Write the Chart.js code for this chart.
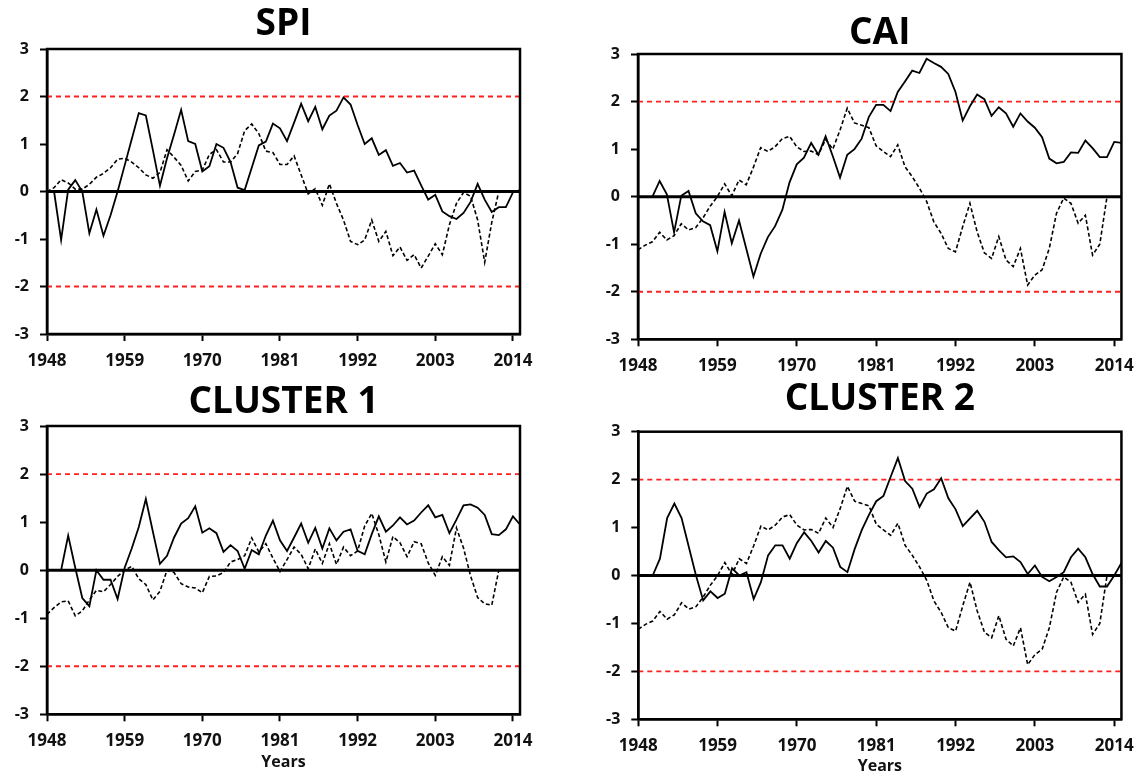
<!DOCTYPE html>
<html>
<head>
<meta charset="utf-8">
<script src="https://cdn.jsdelivr.net/npm/chart.js@4.4.1/dist/chart.umd.min.js"></script>
<style>
  html, body { margin: 0; padding: 0; background: #fff; }
  body { width: 1144px; height: 776px; position: relative; overflow: hidden; }
  .panel { position: absolute; }
</style>
</head>
<body>
<div class="panel" style="left:0;top:0;width:555px;height:378px"><canvas id="spi"></canvas></div>
<div class="panel" style="left:590px;top:0;width:554px;height:378px"><canvas id="cai"></canvas></div>
<div class="panel" style="left:0;top:378px;width:555px;height:398px"><canvas id="cluster1"></canvas></div>
<div class="panel" style="left:590px;top:378px;width:554px;height:398px"><canvas id="cluster2"></canvas></div>
<script>
// years on the x axis (one value per year)
const years = [
  1948, 1949, 1950, 1951, 1952, 1953, 1954, 1955, 1956, 1957, 1958,
  1959, 1960, 1961, 1962, 1963, 1964, 1965, 1966, 1967, 1968, 1969,
  1970, 1971, 1972, 1973, 1974, 1975, 1976, 1977, 1978, 1979, 1980,
  1981, 1982, 1983, 1984, 1985, 1986, 1987, 1988, 1989, 1990, 1991,
  1992, 1993, 1994, 1995, 1996, 1997, 1998, 1999, 2000, 2001, 2002,
  2003, 2004, 2005, 2006, 2007, 2008, 2009, 2010, 2011, 2012, 2013,
  2014, 2015
];
const xTicks = [1948, 1959, 1970, 1981, 1992, 2003, 2014];
const yTicks = [-3, -2, -1, 0, 1, 2, 3];
const thresholds = [-2, 2];

// solid lines, 1948 -> 2015
const spiSolid = [
  null, 0, -1.02, 0.04, 0.24, 0.0, -0.88, -0.38, -0.93, -0.5, 0.0,
  0.55, 1.1, 1.65, 1.6, 0.87, 0.12, 0.7, 1.2, 1.72, 1.06, 1.0,
  0.42, 0.53, 1.0, 0.92, 0.62, 0.08, 0.03, 0.5, 0.97, 1.05, 1.43,
  1.33, 1.06, 1.45, 1.85, 1.48, 1.78, 1.31, 1.6, 1.7, 1.98, 1.83,
  1.4, 1.0, 1.12, 0.77, 0.87, 0.54, 0.6, 0.4, 0.44, 0.13, -0.17,
  -0.07, -0.42, -0.52, -0.58, -0.45, -0.22, 0.16, -0.17, -0.43, -0.33, -0.33,
  -0.02, 0.03
];
const caiSolid = [
  null, null, 0, 0.33, 0.05, -0.75, 0.02, 0.12, -0.35, -0.52, -0.6,
  -1.15, -0.32, -0.98, -0.5, -1.09, -1.68, -1.2, -0.85, -0.62, -0.28, 0.3,
  0.68, 0.82, 1.13, 0.88, 1.27, 0.85, 0.4, 0.88, 1.0, 1.22, 1.68,
  1.93, 1.93, 1.8, 2.2, 2.42, 2.65, 2.6, 2.9, 2.81, 2.73, 2.58,
  2.2, 1.6, 1.9, 2.15, 2.05, 1.7, 1.88, 1.75, 1.47, 1.75, 1.58,
  1.45, 1.25, 0.8, 0.7, 0.73, 0.93, 0.92, 1.18, 1.02, 0.83, 0.83,
  1.15, 1.13
];
const cluster1Solid = [
  null, null, 0, 0.72, 0.05, -0.58, -0.75, 0.0, -0.2, -0.2, -0.6,
  0.05, 0.45, 0.9, 1.48, 0.8, 0.13, 0.3, 0.68, 0.97, 1.08, 1.33,
  0.78, 0.87, 0.77, 0.38, 0.52, 0.4, 0.03, 0.42, 0.33, 0.72, 1.03,
  0.62, 0.4, 0.68, 0.97, 0.57, 0.88, 0.45, 0.87, 0.62, 0.8, 0.85,
  0.4, 0.33, 0.75, 1.12, 0.8, 0.93, 1.1, 0.95, 1.03, 1.2, 1.35,
  1.1, 1.15, 0.77, 1.05, 1.35, 1.37, 1.3, 1.15, 0.75, 0.73, 0.85,
  1.12, 0.95
];
const cluster2Solid = [
  null, null, 0, 0.35, 1.2, 1.5, 1.2, 0.6, 0.0, -0.52, -0.33,
  -0.47, -0.38, 0.15, 0.0, 0.07, -0.49, -0.14, 0.42, 0.63, 0.63, 0.35,
  0.68, 0.9, 0.72, 0.48, 0.72, 0.58, 0.18, 0.07, 0.55, 0.95, 1.27,
  1.55, 1.66, 2.06, 2.45, 1.97, 1.81, 1.43, 1.71, 1.8, 2.03, 1.61,
  1.38, 1.03, 1.19, 1.35, 1.12, 0.7, 0.53, 0.38, 0.4, 0.28, 0.03,
  0.21, -0.03, -0.12, -0.03, 0.07, 0.38, 0.56, 0.38, 0.03, -0.23, -0.23,
  0.0, 0.26
];

// dashed lines, from 1948 until they stop
const spiDashed = [
  0, 0.08, 0.25, 0.18, 0.05, 0.05, 0.15, 0.3, 0.38, 0.5, 0.68,
  0.7, 0.62, 0.5, 0.35, 0.28, 0.4, 0.88, 0.72, 0.55, 0.22, 0.42,
  0.45, 0.78, 0.88, 0.62, 0.62, 0.8, 1.28, 1.42, 1.22, 0.85, 0.82,
  0.57, 0.57, 0.75, 0.35, -0.05, 0.06, -0.29, 0.16, -0.25, -0.6, -1.05,
  -1.12, -1.02, -0.6, -1.05, -0.84, -1.35, -1.17, -1.45, -1.33, -1.61, -1.36,
  -1.1, -1.33, -0.7, -0.25, -0.02, -0.1, -0.6, -1.49, -0.65, 0.0
];
const caiDashed = [
  -1.12, -1.02, -0.95, -0.75, -0.91, -0.82, -0.57, -0.7, -0.65, -0.45, -0.2,
  0.0, 0.27, 0.02, 0.35, 0.25, 0.62, 1.03, 0.95, 1.05, 1.22, 1.27,
  1.05, 0.95, 0.96, 0.88, 1.2, 1.0, 1.4, 1.86, 1.55, 1.5, 1.45,
  1.07, 0.95, 0.84, 1.09, 0.63, 0.42, 0.18, -0.1, -0.53, -0.77, -1.09,
  -1.16, -0.63, -0.14, -0.74, -1.18, -1.3, -0.84, -1.33, -1.47, -1.09, -1.86,
  -1.65, -1.54, -1.09, -0.35, -0.03, -0.14, -0.56, -0.39, -1.23, -1.0, 0.0
];
const cluster1Dashed = [
  -0.92, -0.78, -0.66, -0.64, -0.95, -0.85, -0.62, -0.42, -0.45, -0.3, -0.13,
  0.0, 0.08, -0.18, -0.3, -0.62, -0.44, 0.0, -0.05, -0.28, -0.35, -0.37,
  -0.47, -0.13, -0.12, -0.05, 0.17, 0.22, 0.3, 0.67, 0.38, 0.55, 0.25,
  -0.03, 0.22, 0.48, 0.33, 0.03, 0.44, 0.14, 0.55, 0.12, 0.48, 0.3,
  0.4, 0.92, 1.18, 0.74, 0.17, 0.7, 0.57, 0.28, 0.59, 0.55, 0.15,
  -0.11, 0.28, 0.1, 0.88, 0.46, -0.12, -0.57, -0.7, -0.73, 0.0
];
const cluster2Dashed = caiDashed; // same curve as in the CAI panel

const FONT = "'Open Sans', 'DejaVu Sans', sans-serif";

function pts(values) {
  return values.map((v, i) => ({ x: years[i], y: v }));
}

function flatLine(y) {
  return [{ x: years[0], y: y }, { x: years[years.length - 1], y: y }];
}

// draws the box round the plot area
const framePlugin = {
  id: "frame",
  afterDraw(chart) {
    const { ctx, chartArea: a } = chart;
    ctx.save();
    ctx.strokeStyle = "#000";
    ctx.lineWidth = 2.5;
    ctx.strokeRect(a.left, a.top, a.right - a.left, a.bottom - a.top);
    ctx.restore();
  },
};

function makePanel(id, title, solid, dashed, box) {
  const datasets = [];
  thresholds.forEach(function (t) {
    datasets.push({
      data: flatLine(t),
      borderColor: "#ff2020",
      borderWidth: 1.8,
      borderDash: [5, 4],
      order: 3,
    });
  });
  datasets.push({ data: flatLine(0), borderColor: "#000", borderWidth: 3, order: 0 });
  datasets.push({ data: pts(solid), borderColor: "#000", borderWidth: 1.8, order: 1 });
  datasets.push({
    data: pts(dashed),
    borderColor: "#000",
    borderWidth: 1.6,
    borderDash: [4, 2.5],
    order: 1,
  });

  new Chart(document.getElementById(id), {
    type: "line",
    data: { datasets: datasets },
    plugins: [framePlugin],
    options: {
      responsive: true,
      maintainAspectRatio: false,
      animation: false,
      events: [],
      elements: { point: { radius: 0 }, line: { tension: 0, fill: false } },
      layout: { padding: { left: 0, top: 0, right: box.padR, bottom: 0 } },
      plugins: {
        legend: { display: false },
        tooltip: { enabled: false },
        title: {
          display: true,
          text: title,
          color: "#000",
          fullSize: false,
          font: { family: FONT, size: 37, weight: "bold", lineHeight: 1 },
          padding: { top: box.tTop, bottom: box.tBottom },
        },
      },
      scales: {
        x: {
          type: "linear",
          min: years[0],
          max: years[years.length - 1],
          afterBuildTicks: function (s) {
            s.ticks = xTicks.map(function (v) { return { value: v }; });
          },
          afterFit: function (s) { s.height = box.xh; },
          ticks: {
            autoSkip: false,
            maxRotation: 0,
            padding: 10,
            color: "#111",
            font: { family: FONT, size: 17, weight: "bold" },
            callback: function (v) { return String(v); },
          },
          grid: {
            drawOnChartArea: false,
            drawTicks: true,
            tickLength: 7,
            tickColor: "#000",
            tickWidth: 2,
          },
          border: { display: true, color: "#000", width: 2.5 },
          title: {
            display: box.yearsLabel,
            text: "Years",
            color: "#111",
            font: { family: FONT, size: 16, weight: "bold" },
            padding: { top: 0, bottom: box.yearsPad },
          },
        },
        y: {
          min: yTicks[0],
          max: yTicks[yTicks.length - 1],
          afterBuildTicks: function (s) {
            s.ticks = yTicks.map(function (v) { return { value: v }; });
          },
          afterFit: function (s) { s.width = box.yw; },
          ticks: {
            padding: 11,
            color: "#111",
            font: { family: FONT, size: 16, weight: "bold" },
          },
          grid: {
            drawOnChartArea: false,
            drawTicks: true,
            tickLength: 7,
            tickColor: "#000",
            tickWidth: 2,
          },
          border: { display: true, color: "#000", width: 2.5 },
        },
      },
    },
  });
}

makePanel("spi", "SPI", spiSolid, spiDashed,
  { yw: 47, xh: 44, padR: 35, tTop: 5.5, tBottom: 6.5, yearsLabel: false, yearsPad: 0 });
makePanel("cai", "CAI", caiSolid, caiDashed,
  { yw: 48, xh: 38.7, padR: 18, tTop: 15, tBottom: 2, yearsLabel: false, yearsPad: 0 });
makePanel("cluster1", "CLUSTER 1", cluster1Solid, cluster1Dashed,
  { yw: 47, xh: 61.7, padR: 35, tTop: 6, tBottom: 5, yearsLabel: true, yearsPad: 4 });
makePanel("cluster2", "CLUSTER 2", cluster2Solid, cluster2Dashed,
  { yw: 48.3, xh: 56.7, padR: 16.3, tTop: 3, tBottom: 13.7, yearsLabel: true, yearsPad: 0 });
</script>
</body>
</html>
